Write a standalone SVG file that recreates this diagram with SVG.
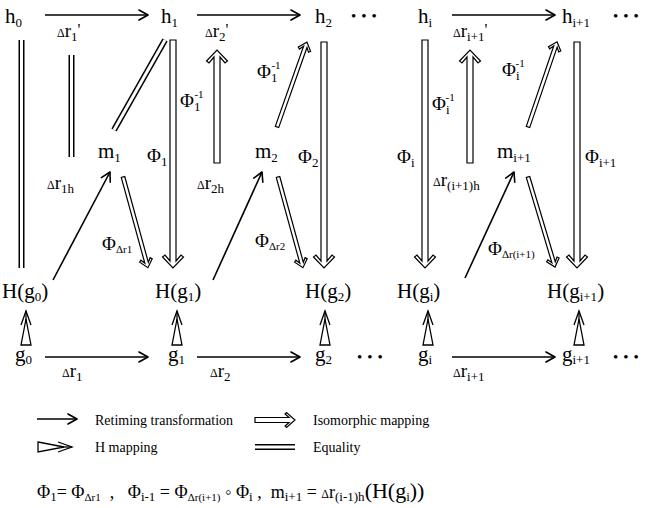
<svg xmlns="http://www.w3.org/2000/svg" xmlns:xlink="http://www.w3.org/1999/xlink" width="663" height="508" viewBox="0 0 663 508">
<style>
.t{font-family:"Liberation Serif","Times New Roman",serif;fill:#000}
.n{font-size:21px}
.lb{font-size:19px}
.fm{font-size:18px}
.sb{font-size:13px}
.ss{font-size:11px}
.d{font-size:12px}
.lg{font-size:14px}
.pr{font-size:16px}
.dots{font-size:15px;letter-spacing:5px}
.ret{stroke:#000;stroke-width:1.6;fill:none;marker-end:url(#ah)}
.iso{fill:#fff;stroke:#000;stroke-width:1.2;stroke-linejoin:miter}
.eqo{stroke:#000;stroke-width:6;fill:none}
.eqi{stroke:#fff;stroke-width:3;fill:none}
</style>
<defs>
<marker id="ah" markerUnits="userSpaceOnUse" markerWidth="12" markerHeight="12" viewBox="0 0 12 12" refX="11" refY="6" orient="auto">
<path d="M2,1 L11,6 L2,11" fill="none" stroke="#000" stroke-width="1.6" stroke-linecap="round" stroke-linejoin="round"/>
</marker>
<g id="hm">
<path d="M0,-5 L26,0 L0,5 Z" fill="#fff" stroke="#000" stroke-width="1.3"/>
<path d="M20,-5 L34,0 L20,5" fill="none" stroke="#000" stroke-width="1.3"/>
<line x1="23" y1="0" x2="34" y2="0" stroke="#000" stroke-width="1.3"/>
</g>
</defs>
<rect width="663" height="508" fill="#fff"/>

<g id="connectors">
<line class="ret" x1="45" y1="15" x2="148" y2="15"/>
<line class="ret" x1="197" y1="15" x2="300" y2="15"/>
<line class="ret" x1="452" y1="15" x2="555" y2="15"/>
<line class="ret" x1="45" y1="357" x2="148" y2="357"/>
<line class="ret" x1="197" y1="357" x2="300" y2="357"/>
<line class="ret" x1="452" y1="357" x2="555" y2="357"/>
<line class="ret" x1="53" y1="280" x2="110" y2="172"/>
<line class="ret" x1="213" y1="280" x2="262" y2="172"/>
<line class="ret" x1="465" y1="278" x2="514" y2="172"/>
<path class="eqo" d="M21.5,40 V268"/><path class="eqi" d="M21.5,40 V268"/>
<path class="eqo" d="M71.5,55 V157"/><path class="eqi" d="M71.5,55 V157"/>
<path class="eqo" d="M165,40 L114,130"/><path class="eqi" d="M165,40 L114,130"/>
<path class="iso" transform="translate(173,40) rotate(90)" d="M0,-3 L221,-3 L215,-8 L217,-10.5 L228,0 L217,10.5 L215,8 L221,3 L0,3 Z"/>
<path class="iso" transform="translate(324,42) rotate(90)" d="M0,-3 L219,-3 L213,-8 L215,-10.5 L226,0 L215,10.5 L213,8 L219,3 L0,3 Z"/>
<path class="iso" transform="translate(425,40) rotate(90)" d="M0,-3 L221,-3 L215,-8 L217,-10.5 L228,0 L217,10.5 L215,8 L221,3 L0,3 Z"/>
<path class="iso" transform="translate(577,42) rotate(90)" d="M0,-3 L219,-3 L213,-8 L215,-10.5 L226,0 L215,10.5 L213,8 L219,3 L0,3 Z"/>
<path class="iso" transform="translate(217,163) rotate(-90)" d="M0,-3 L106,-3 L100,-8 L102,-10.5 L113,0 L102,10.5 L100,8 L106,3 L0,3 Z"/>
<path class="iso" transform="translate(470,163) rotate(-90)" d="M0,-3 L106,-3 L100,-8 L102,-10.5 L113,0 L102,10.5 L100,8 L106,3 L0,3 Z"/>
<path class="iso" transform="translate(277,127) rotate(-70.56)" d="M0,-1.8 L85,-1.8 L81,-4.8 L82.5,-6.5 L90,0 L82.5,6.5 L81,4.8 L85,1.8 L0,1.8 Z"/>
<path class="iso" transform="translate(528,127) rotate(-71.16)" d="M0,-1.8 L85,-1.8 L81,-4.8 L82.5,-6.5 L90,0 L82.5,6.5 L81,4.8 L85,1.8 L0,1.8 Z"/>
<path class="iso" transform="translate(123,177) rotate(74.64)" d="M0,-1.8 L89,-1.8 L85,-4.8 L86.5,-6.5 L94,0 L86.5,6.5 L85,4.8 L89,1.8 L0,1.8 Z"/>
<path class="iso" transform="translate(278,177) rotate(74.64)" d="M0,-1.8 L89,-1.8 L85,-4.8 L86.5,-6.5 L94,0 L86.5,6.5 L85,4.8 L89,1.8 L0,1.8 Z"/>
<path class="iso" transform="translate(528,177) rotate(73.3)" d="M0,-1.8 L89,-1.8 L85,-4.8 L86.5,-6.5 L94,0 L86.5,6.5 L85,4.8 L89,1.8 L0,1.8 Z"/>
<use xlink:href="#hm" href="#hm" transform="translate(26,345) rotate(-90)"/>
<use xlink:href="#hm" href="#hm" transform="translate(177,345) rotate(-90)"/>
<use xlink:href="#hm" href="#hm" transform="translate(325,345) rotate(-90)"/>
<use xlink:href="#hm" href="#hm" transform="translate(428,345) rotate(-90)"/>
<use xlink:href="#hm" href="#hm" transform="translate(579,345) rotate(-90)"/>
</g>

<g id="connector-labels" class="t">
<text class="lb" x="57" y="37"><tspan class="d">Δ</tspan>r<tspan class="sb" dy="4">1</tspan><tspan class="pr" dy="-6">'</tspan></text>
<text class="lb" x="205" y="37"><tspan class="d">Δ</tspan>r<tspan class="sb" dy="4">2</tspan><tspan class="pr" dy="-6">'</tspan></text>
<text class="lb" x="453" y="37"><tspan class="d">Δ</tspan>r<tspan class="sb" dy="4">i+1</tspan><tspan class="pr" dy="-6">'</tspan></text>
<text class="lb" x="62" y="377"><tspan class="d">Δ</tspan>r<tspan class="sb" dy="4">1</tspan></text>
<text class="lb" x="210" y="377"><tspan class="d">Δ</tspan>r<tspan class="sb" dy="4">2</tspan></text>
<text class="lb" x="453" y="377"><tspan class="d">Δ</tspan>r<tspan class="sb" dy="4">i+1</tspan></text>
<text class="lb" x="47" y="189"><tspan class="d">Δ</tspan>r<tspan class="sb" dy="4">1h</tspan></text>
<text class="lb" x="197" y="189"><tspan class="d">Δ</tspan>r<tspan class="sb" dy="4">2h</tspan></text>
<text class="lb" x="433" y="186"><tspan class="d">Δ</tspan>r<tspan class="sb" dy="4">(i+1)h</tspan></text>
<text class="lb" x="147" y="162">Φ<tspan class="sb" dy="4">1</tspan></text>
<text class="lb" x="180" y="107">Φ<tspan class="sb" dy="4">1</tspan><tspan class="ss" dx="-6" dy="-13">-1</tspan></text>
<text class="lb" x="257" y="78">Φ<tspan class="sb" dy="4">1</tspan><tspan class="ss" dx="-6" dy="-13">-1</tspan></text>
<text class="lb" x="298" y="163">Φ<tspan class="sb" dy="4">2</tspan></text>
<text class="lb" x="397" y="163">Φ<tspan class="sb" dy="4">i</tspan></text>
<text class="lb" x="432" y="110">Φ<tspan class="sb" dy="4">i</tspan><tspan class="ss" dx="-4" dy="-13">-1</tspan></text>
<text class="lb" x="502" y="76">Φ<tspan class="sb" dy="4">i</tspan><tspan class="ss" dx="-4" dy="-13">-1</tspan></text>
<text class="lb" x="585" y="163">Φ<tspan class="sb" dy="4">i+1</tspan></text>
<text class="lb" x="102" y="250">Φ<tspan class="ss" dy="3">Δr1</tspan></text>
<text class="lb" x="255" y="247">Φ<tspan class="ss" dy="3">Δr2</tspan></text>
<text class="lb" x="488" y="255">Φ<tspan class="ss" dy="3">Δr(i+1)</tspan></text>
</g>

<g id="nodes" class="t">
<g id="h0"><text class="n" x="5" y="23">h<tspan class="sb" dy="4">0</tspan></text></g>
<g id="h1"><text class="n" x="161" y="23">h<tspan class="sb" dy="4">1</tspan></text></g>
<g id="h2"><text class="n" x="315" y="23">h<tspan class="sb" dy="4">2</tspan></text></g>
<g id="hi"><text class="n" x="418" y="23">h<tspan class="sb" dy="4">i</tspan></text></g>
<g id="hi1"><text class="n" x="562" y="23">h<tspan class="sb" dy="4">i+1</tspan></text></g>
<g id="m1"><text class="n" x="98" y="158">m<tspan class="sb" dy="4">1</tspan></text></g>
<g id="m2"><text class="n" x="255" y="158">m<tspan class="sb" dy="4">2</tspan></text></g>
<g id="mi1"><text class="n" x="497" y="158">m<tspan class="sb" dy="4">i+1</tspan></text></g>
<g id="Hg0"><text class="n" x="2" y="298">H(g<tspan class="sb" dy="3">0</tspan><tspan dy="-3">)</tspan></text></g>
<g id="Hg1"><text class="n" x="155" y="298">H(g<tspan class="sb" dy="3">1</tspan><tspan dy="-3">)</tspan></text></g>
<g id="Hg2"><text class="n" x="305" y="298">H(g<tspan class="sb" dy="3">2</tspan><tspan dy="-3">)</tspan></text></g>
<g id="Hgi"><text class="n" x="397" y="298">H(g<tspan class="sb" dy="3">i</tspan><tspan dy="-3">)</tspan></text></g>
<g id="Hgi1"><text class="n" x="547" y="298">H(g<tspan class="sb" dy="3">i+1</tspan><tspan dy="-3">)</tspan></text></g>
<g id="g0"><text class="n" x="15" y="361">g<tspan class="sb" dy="3">0</tspan></text></g>
<g id="g1"><text class="n" x="168" y="361">g<tspan class="sb" dy="3">1</tspan></text></g>
<g id="g2"><text class="n" x="315" y="361">g<tspan class="sb" dy="3">2</tspan></text></g>
<g id="gi"><text class="n" x="418" y="361">g<tspan class="sb" dy="3">i</tspan></text></g>
<g id="gi1"><text class="n" x="562" y="361">g<tspan class="sb" dy="3">i+1</tspan></text></g>
<g id="ellipses">
<text class="dots" x="351" y="21">•••</text>
<text class="dots" x="613" y="21">•••</text>
<text class="dots" x="357" y="362">•••</text>
<text class="dots" x="613" y="362">•••</text>
</g>
</g>

<g id="legend">
<line class="ret" x1="37" y1="419" x2="77" y2="419"/>
<text class="t lg" x="95" y="425">Retiming transformation</text>
<path class="iso" transform="translate(255,420)" d="M0,-2.5 L34,-2.5 L30,-6 L31.5,-7.5 L40,0 L31.5,7.5 L30,6 L34,2.5 L0,2.5 Z"/>
<text class="t lg" x="313" y="425">Isomorphic mapping</text>
<use xlink:href="#hm" href="#hm" transform="translate(38,447)"/>
<text class="t lg" x="95" y="452">H mapping</text>
<path class="eqo" d="M255,447 H295"/><path class="eqi" d="M255,447 H295"/>
<text class="t lg" x="313" y="452">Equality</text>
</g>

<g id="formula" class="t">
<text class="fm" x="37" y="498">Φ<tspan class="sb" dy="3">1</tspan><tspan dy="-3">= Φ</tspan><tspan class="ss" dy="3">Δr1</tspan><tspan dy="-3">&#160;&#160;,&#160;&#160;&#160;Φ</tspan><tspan class="sb" dy="3">i-1</tspan><tspan dy="-3"> = Φ</tspan><tspan class="ss" dy="3">Δr(i+1)</tspan><tspan dy="-3"> ◦ Φ</tspan><tspan class="sb" dy="3">i</tspan><tspan dy="-3">&#160;,&#160;&#160;m</tspan><tspan class="sb" dy="3">i+1</tspan><tspan dy="-3"> = </tspan><tspan class="d">Δ</tspan>r<tspan class="sb" dy="3">(i-1)h</tspan><tspan dy="-3" font-size="22">(H(g</tspan><tspan class="sb" dy="3">i</tspan><tspan dy="-3" font-size="22">))</tspan></text>
</g>
</svg>
